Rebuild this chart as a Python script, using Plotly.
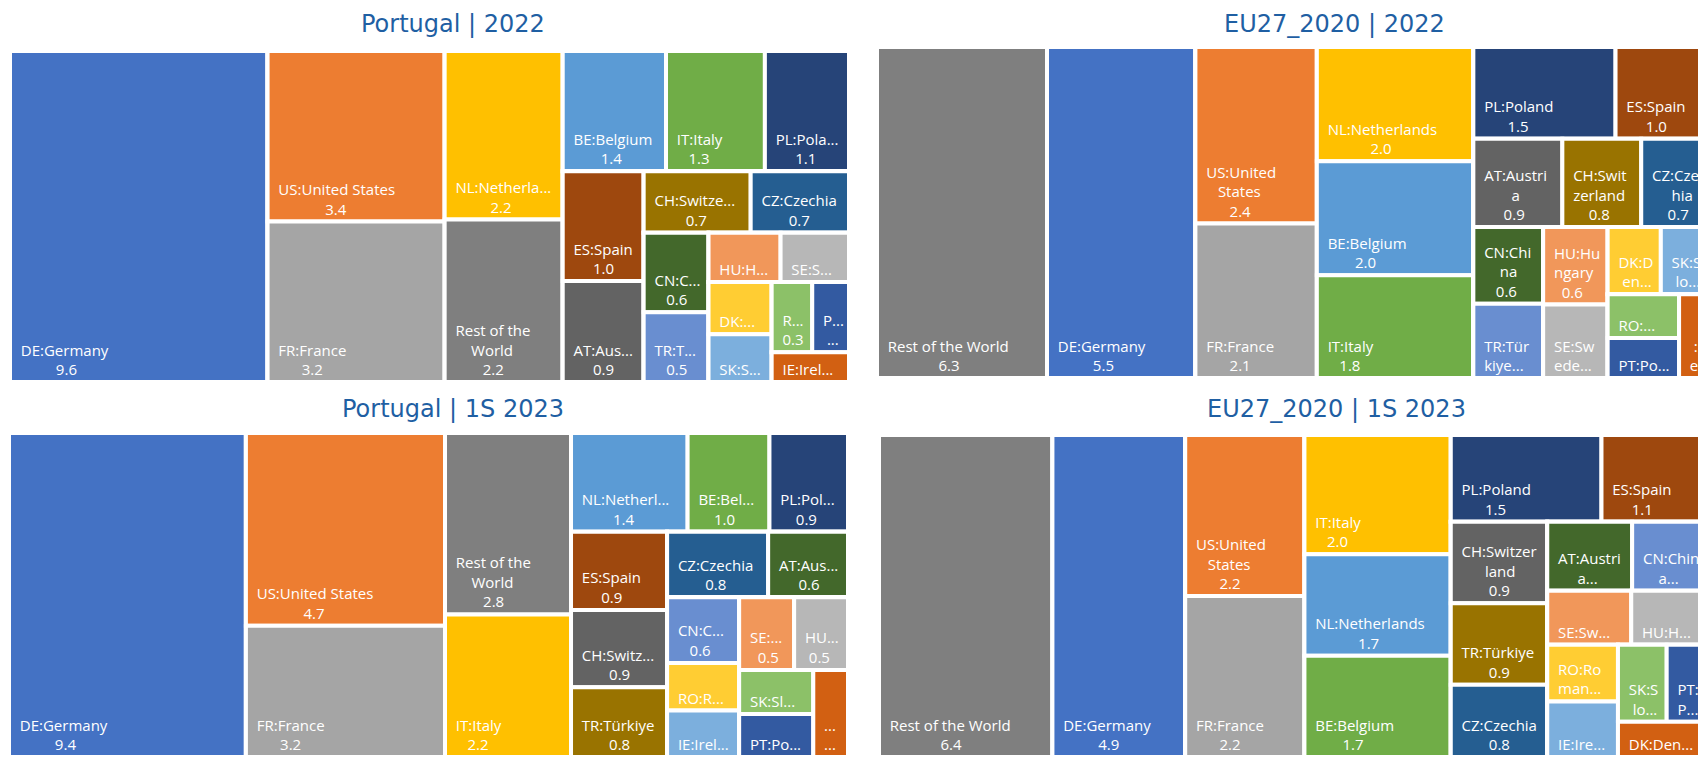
import plotly.graph_objects as go

# ---------------- data ----------------
PALETTE = ["#4472C4", "#ED7D31", "#A5A5A5", "#FFC000", "#5B9BD5", "#70AD47",
           "#264478", "#9E480E", "#636363", "#997300", "#255E91", "#43682B",
           "#698ED0", "#F1975A", "#B7B7B7", "#FFCD33", "#7CAFDD", "#8CC168",
           "#335AA1", "#D26012"]
REST_COLOR = "#7F7F7F"

# Portugal | 2022
pt22_codes = ["DE", "US", "FR", "NL", "ROW", "BE", "IT", "PL", "ES", "AT", "CH",
              "CZ", "CN", "TR", "HU", "SE", "DK", "SK", "RO", "P", "IE"]
pt22_values = [9.6, 3.4, 3.2, 2.24, 2.16, 1.4, 1.34, 1.14, 1.0, 0.92, 0.74,
               0.68, 0.58, 0.51, 0.40, 0.38, 0.37, 0.34, 0.32, 0.29, 0.26]
pt22_names = ["DE:Germany", "US:United States", "FR:France", "NL:Netherla...",
              "Rest of the<br>World", "BE:Belgium", "IT:Italy", "PL:Pola...",
              "ES:Spain", "AT:Aus...", "CH:Switze...", "CZ:Czechia", "CN:C...",
              "TR:T...", "HU:H...", "SE:S...", "DK:...", "SK:S...", "R...",
              "P...", "IE:Irel..."]
pt22_shown = ["9.6", "3.4", "3.2", "2.2", "2.2", "1.4", "1.3", "1.1", "1.0", "0.9",
              "0.7", "0.7", "0.6", "0.5", "", "", "", "", "0.3", "...", ""]
# tile strips as Excel arranged them (str = single tile, tuple = strip, list = sub-block)
pt22_layout = ["DE", ("US", "FR"), ("NL", "ROW"), ("BE", "IT", "PL"), ("ES", "AT"),
               ("CH", "CZ"), ("CN", "TR"), ("HU", "SE"), ("DK", "SK"), ("RO", "P"), "IE"]

# EU27_2020 | 2022
eu22_codes = ["ROW", "DE", "US", "FR", "NL", "BE", "IT", "PL", "ES", "AT", "CH",
              "CZ", "CN", "TR", "HU", "SE", "DK", "SK", "RO", "PT", "IE"]
eu22_values = [6.3, 5.5, 2.4, 2.1, 2.0, 2.0, 1.8, 1.46, 0.97, 0.88, 0.78,
               0.68, 0.6, 0.58, 0.56, 0.53, 0.40, 0.37, 0.35, 0.32, 0.29]
eu22_names = ["Rest of the World", "DE:Germany", "US:United<br>States", "FR:France",
              "NL:Netherlands", "BE:Belgium", "IT:Italy", "PL:Poland", "ES:Spain",
              "AT:Austri<br>a", "CH:Swit<br>zerland", "CZ:Czec<br>hia",
              "CN:Chi<br>na", "TR:Tür<br>kiye...", "HU:Hu<br>ngary",
              "SE:Sw<br>ede...", "DK:D<br>en...", "SK:S<br>lo...", "RO:...",
              "PT:Po...", "IE<br>:Ir<br>el..."]
eu22_shown = ["6.3", "5.5", "2.4", "2.1", "2.0", "2.0", "1.8", "1.5", "1.0", "0.9",
              "0.8", "0.7", "0.6", "", "0.6", "", "", "", "", "", ""]
eu22_layout = ["ROW", "DE", ("US", "FR"), ("NL", "BE", "IT"), ("PL", "ES"),
               ("AT", "CH", "CZ"), ("CN", "TR"), ("HU", "SE"), ("DK", "SK"),
               ("RO", "PT"), "IE"]

# Portugal | 1S 2023
pt23_codes = ["DE", "US", "FR", "ROW", "IT", "NL", "BE", "PL", "ES", "CH", "TR",
              "CZ", "AT", "CN", "SE", "HU", "RO", "IE", "SK", "PT", "DK"]
pt23_values = [9.4, 4.7, 3.2, 2.8, 2.2, 1.41, 0.99, 0.95, 0.92, 0.91, 0.82,
               0.81, 0.64, 0.58, 0.49, 0.48, 0.42, 0.41, 0.40, 0.39, 0.37]
pt23_names = ["DE:Germany", "US:United States", "FR:France", "Rest of the<br>World",
              "IT:Italy", "NL:Netherl...", "BE:Bel...", "PL:Pol...", "ES:Spain",
              "CH:Switz...", "TR:Türkiye", "CZ:Czechia", "AT:Aus...", "CN:C...",
              "SE:...", "HU...", "RO:R...", "IE:Irel...", "SK:Sl...", "PT:Po...",
              "..."]
pt23_shown = ["9.4", "4.7", "3.2", "2.8", "2.2", "1.4", "1.0", "0.9", "0.9", "0.9",
              "0.8", "0.8", "0.6", "0.6", "0.5", "0.5", "", "", "", "", "..."]
pt23_layout = ["DE", ("US", "FR"), ("ROW", "IT"), ("NL", "BE", "PL"), ("ES", "CH", "TR"),
               ("CZ", "AT"),
               [["CN", ("RO", "IE")], [("SE", "HU"), [("SK", "PT"), "DK"]]]]

# EU27_2020 | 1S 2023
eu23_codes = ["ROW", "DE", "US", "FR", "IT", "NL", "BE", "PL", "ES", "CH", "TR",
              "CZ", "AT", "CN", "SE", "HU", "RO", "IE", "SK", "PT", "DK"]
eu23_values = [6.4, 4.9, 2.2, 2.2, 2.0, 1.7, 1.7, 1.5, 1.1, 0.9, 0.9,
               0.8, 0.67, 0.63, 0.52, 0.5, 0.46, 0.45, 0.43, 0.4, 0.38]
eu23_names = ["Rest of the World", "DE:Germany", "US:United<br>States", "FR:France",
              "IT:Italy", "NL:Netherlands", "BE:Belgium", "PL:Poland", "ES:Spain",
              "CH:Switzer<br>land", "TR:Türkiye", "CZ:Czechia", "AT:Austri<br>a...",
              "CN:Chin<br>a...", "SE:Sw...", "HU:H...", "RO:Ro<br>man...",
              "IE:Ire...", "SK:S<br>lo...", "PT:<br>P...", "DK:Den..."]
eu23_shown = ["6.4", "4.9", "2.2", "2.2", "2.0", "1.7", "1.7", "1.5", "1.1", "0.9",
              "0.9", "0.8", "", "", "", "", "", "", "", "", ""]
eu23_layout = ["ROW", "DE", ("US", "FR"), ("IT", "NL", "BE"), ("PL", "ES"),
               ("CH", "TR", "CZ"), ("AT", "CN"), ("SE", "HU"), ("RO", "IE"),
               ("SK", "PT"), "DK"]

titles = ["Portugal | 2022", "EU27_2020 | 2022", "Portugal | 1S 2023", "EU27_2020 | 1S 2023"]

# ---------------- layout helpers ----------------
W, H = 1720, 770
FONT = "Open Sans"
FS = 15

CW = {c: 0.62 for c in "ABCDEFGHIJKLMNOPQRSTUVWXYZ"}
CW.update({"I": 0.28, "J": 0.27, "M": 0.90, "W": 0.93, "D": 0.73, "G": 0.72,
           "E": 0.56, "F": 0.52, "L": 0.53, "S": 0.55, "T": 0.55})
CW.update({c: 0.57 for c in "abcdeghknopqsuvxyzü"})
CW.update({"f": 0.34, "i": 0.26, "j": 0.26, "l": 0.26, "r": 0.41, "t": 0.35,
           "m": 0.93, "w": 0.78, "c": 0.48, "s": 0.48})
CW.update({c: 0.57 for c in "0123456789"})
CW.update({".": 0.27, ":": 0.27, " ": 0.26})
NBSP = 0.26


def tw(s):
    return sum(CW.get(ch, 0.57) for ch in s)


def block(name, shown):
    lines = name.split("<br>")
    if shown:
        lines.append(shown)
    ws = [tw(l) for l in lines]
    m = max(ws)
    out = []
    for l, w in zip(lines, ws):
        n = int(round((m - w) / 2 / NBSP)) + 2
        out.append("\u00a0" * n + l)
    return "<br>".join(out)


def colours(codes):
    res, k = [], 0
    for c in codes:
        if c == "ROW":
            res.append(REST_COLOR)
        else:
            res.append(PALETTE[k % len(PALETTE)])
            k += 1
    return res


def dom(x0, x1, y0, y1):
    return dict(x=[x0 / W, x1 / W], y=[1 - y1 / H, 1 - y0 / H])


def hierarchy(tag, codes, values, texts, cols, layout):
    pos = {c: i for i, c in enumerate(codes)}
    ids, parents, vals, txt, clr = [], [], [], [], []
    counter = [0]

    def node(parent):
        counter[0] += 1
        nid = f"{tag}_n{counter[0]}"
        ids.append(nid); parents.append(parent); vals.append(0)
        txt.append(""); clr.append("white")
        return nid

    def leaf(code, parent):
        i = pos[code]
        ids.append(f"{tag}_{code}"); parents.append(parent); vals.append(values[i])
        txt.append(texts[i]); clr.append(cols[i])

    def element(el, parent):
        if isinstance(el, str):
            leaf(el, parent)
        elif isinstance(el, tuple):
            g = node(parent)
            for c in el:
                leaf(c, g)
        else:
            chain(el, node(parent))

    def chain(seq, parent):
        for k, el in enumerate(seq):
            element(el, parent)
            if k < len(seq) - 1:
                parent = node(parent)

    chain(layout, "")
    return ids, parents, vals, txt, clr


charts = [
    ("pt22", pt22_codes, pt22_values, pt22_names, pt22_shown, pt22_layout, dom(10, 849, 51, 382)),
    ("eu22", eu22_codes, eu22_values, eu22_names, eu22_shown, eu22_layout, dom(877, 1710, 47, 378)),
    ("pt23", pt23_codes, pt23_values, pt23_names, pt23_shown, pt23_layout, dom(9, 848, 433, 757)),
    ("eu23", eu23_codes, eu23_values, eu23_names, eu23_shown, eu23_layout, dom(879, 1712, 435, 757)),
]

fig = go.Figure()
for tag, codes, vals, names, shown, layout, d in charts:
    texts = [block(n, s) for n, s in zip(names, shown)]
    ids, parents, v, t, c = hierarchy(tag, codes, vals, texts, colours(codes), layout)
    fig.add_trace(go.Treemap(
        ids=ids,
        labels=ids,
        parents=parents,
        values=v,
        branchvalues="remainder",
        text=t,
        texttemplate="%{text}",
        textposition="bottom left",
        textfont=dict(family=FONT, size=FS, color="white"),
        marker=dict(colors=c, line=dict(color="white", width=4),
                    pad=dict(t=0, l=0, r=0, b=0), depthfade=False),
        tiling=dict(packing="squarify", squarifyratio=1, pad=0),
        pathbar=dict(visible=False),
        sort=False,
        maxdepth=-1,
        domain=d,
        hoverinfo="skip",
    ))

title_pos = [(453, 24), (1334, 24), (453, 409), (1336, 409)]
for t, (x, y) in zip(titles, title_pos):
    fig.add_annotation(text=t, x=x / W, y=1 - y / H, xref="paper", yref="paper",
                       xanchor="center", yanchor="middle", showarrow=False,
                       font=dict(family="DejaVu Sans", size=24, color="#1F5FA3"))

fig.update_layout(
    width=W, height=H,
    margin=dict(l=0, r=0, t=0, b=0),
    paper_bgcolor="white",
    uniformtext=dict(minsize=FS, mode="show"),
    showlegend=False,
)

post = ("var gd=document.getElementById('{plot_id}');var c=gd.parentElement;"
        "c.style.width='1698px';c.style.height='757px';c.style.overflow='hidden';"
        "document.documentElement.style.overflow='hidden';"
        "document.body.style.overflow='hidden';document.body.style.margin='0';")
fig.write_html("out.html", post_script=post)
